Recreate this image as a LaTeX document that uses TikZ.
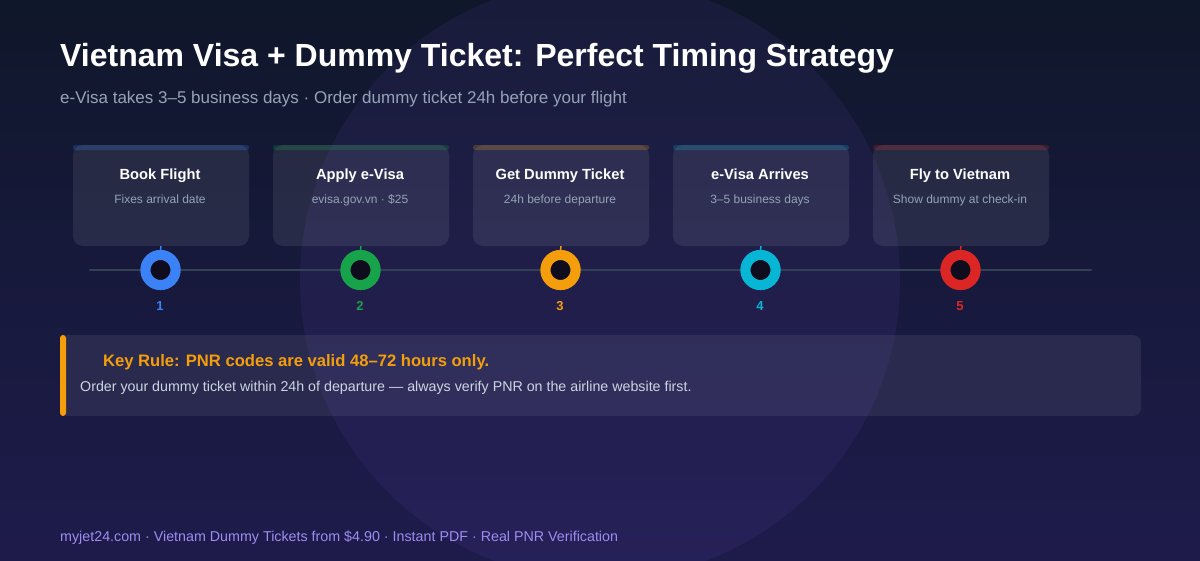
\documentclass[tikz,border=0pt]{standalone}
\usepackage{fontspec}
\setmainfont{Liberation Sans}
\definecolor{bgtop}{HTML}{0F172A}
\definecolor{bgbot}{HTML}{1E1B4B}
\definecolor{cblue}{HTML}{3B82F6}
\definecolor{cgreen}{HTML}{16A34A}
\definecolor{camber}{HTML}{F59E0B}
\definecolor{ccyan}{HTML}{06B6D4}
\definecolor{cred}{HTML}{DC2626}
\definecolor{subgray}{HTML}{94A3B8}
\definecolor{bodygray}{HTML}{CBD5E1}
\definecolor{lineslate}{HTML}{334155}
\definecolor{dotinner}{HTML}{0F0C1D}
\definecolor{footpurple}{HTML}{9D8CF0}
\definecolor{glow}{HTML}{8B5CF6}
\tikzset{
  card/.style={rounded corners=10pt, fill=white, fill opacity=0.08, minimum width=176pt, minimum height=101pt, inner sep=0pt},
  cardtitle/.style={anchor=base, text=white, font=\fontsize{14.7}{18}\selectfont\bfseries, inner sep=0pt},
  cardsub/.style={anchor=base, text=subgray, font=\fontsize{12}{14}\selectfont, inner sep=0pt},
  dotnode/.style={circle, minimum size=30pt, inner sep=0pt, line width=10pt, fill=dotinner, draw=#1},
  numlabel/.style={anchor=base, text=#1, font=\fontsize{13}{15}\selectfont\bfseries, inner sep=0pt},
  tickline/.style={draw=#1, line width=1.5pt},
  stripe/.style={fill=#1, fill opacity=0.22, rounded corners=2pt},
}
\begin{document}
\begin{tikzpicture}[x=1pt,y=-1pt]
\useasboundingbox (0,0) rectangle (1200,560);
\shade[top color=bgtop, bottom color=bgbot, middle color=bgbot!55!bgtop] (0,0) rectangle (1200,560);
\fill[glow, fill opacity=0.08] (600,280) circle[radius=300pt];
% title
\node[anchor=base west, inner sep=0pt, text=white, font=\fontsize{32}{38}\selectfont\bfseries] (title) at (60,66) {Vietnam Visa + Dummy Ticket: Perfect Timing Strategy};
\node[anchor=base west, inner sep=0pt, text=subgray, font=\fontsize{17}{20}\selectfont] (subtitle) at (60,103) {e-Visa takes 3–5 business days · Order dummy ticket 24h before your flight};
% timeline
\coordinate (tlstart) at (90,270);
\coordinate (tlend) at (1091,270);
\draw[lineslate, line width=2.5pt, line cap=round] (tlstart) -- (tlend);
% steps
\foreach \i/\x/\col/\ttl/\sub in {
  1/161/cblue/Book Flight/Fixes arrival date,
  2/361/cgreen/Apply e-Visa/evisa.gov.vn · \$25,
  3/561/camber/Get Dummy Ticket/24h before departure,
  4/761/ccyan/e-Visa Arrives/3–5 business days,
  5/961/cred/Fly to Vietnam/Show dummy at check-in}{
  \fill[stripe=\col] (\x-88,145) rectangle (\x+88,150);
  \node[card] (card\i) at (\x,195.5) {};
  \node[cardtitle] (ct\i) at (\x-1,179.5) {\ttl};
  \node[cardsub] (cs\i) at (\x-1,203) {\sub};
  \node[dotnode=\col] (dot\i) at (\x-0.5,270) {};
  \draw[tickline=\col] (card\i.south) -- (dot\i.north);
  \node[dotnode=\col] at (dot\i) {};
  \node[numlabel=\col] (num\i) at (\x-1,310) {\i};
}
% info box
\node[rounded corners=8pt, fill=white, fill opacity=0.07, minimum width=1081pt, minimum height=81pt, inner sep=0pt] (infobox) at (600.5,375.5) {};
\fill[camber, rounded corners=3pt] (60,335) rectangle (66,416);
\node[anchor=base west, inner sep=0pt, text=camber, font=\fontsize{16.6}{20}\selectfont\bfseries] (rule) at (103,366) {Key Rule: PNR codes are valid 48–72 hours only.};
\node[anchor=base west, inner sep=0pt, text=bodygray, font=\fontsize{14.25}{17}\selectfont] (rulebody) at (80,391) {Order your dummy ticket within 24h of departure — always verify PNR on the airline website first.};
% footer
\node[anchor=base west, inner sep=0pt, text=footpurple, font=\fontsize{14.28}{17}\selectfont] (footer) at (60,541) {myjet24.com · Vietnam Dummy Tickets from \$4.90 · Instant PDF · Real PNR Verification};
\end{tikzpicture}
\end{document}
